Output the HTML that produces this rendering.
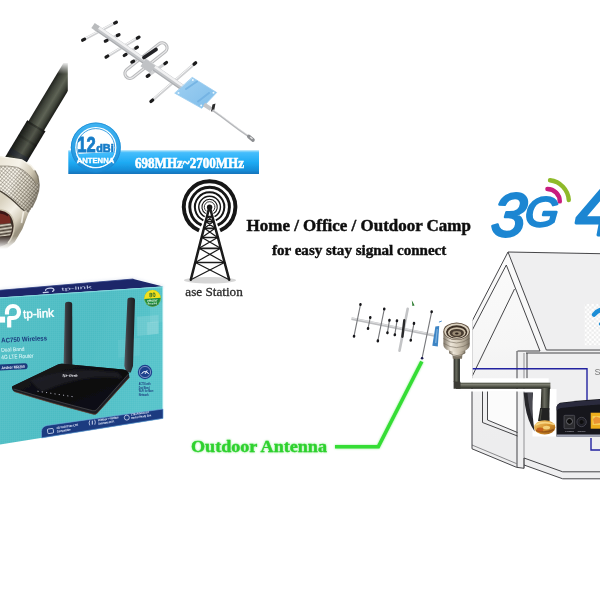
<!DOCTYPE html>
<html lang="en">
<head>
<meta charset="utf-8">
<title>Outdoor Antenna Kit</title>
<style>
html,body{margin:0;padding:0;background:#fff;width:600px;height:600px;overflow:hidden}
svg{display:block}
text{font-family:"Liberation Serif",serif}
.sans{font-family:"Liberation Sans",sans-serif}
</style>
</head>
<body>
<svg width="600" height="600" viewBox="0 0 600 600">
<defs>
  <filter id="b03" x="-5%" y="-5%" width="110%" height="110%"><feGaussianBlur stdDeviation="0.35"/></filter>
  <filter id="b06" x="-10%" y="-10%" width="120%" height="120%"><feGaussianBlur stdDeviation="0.6"/></filter>
  <filter id="b1" x="-10%" y="-10%" width="120%" height="120%"><feGaussianBlur stdDeviation="1"/></filter>
  <filter id="b2" x="-20%" y="-20%" width="140%" height="140%"><feGaussianBlur stdDeviation="2"/></filter>
    <linearGradient id="gCable" x1="0" x2="1" y1="0" y2="0">
    <stop offset="0" stop-color="#20221d"/><stop offset="0.22" stop-color="#3d4138"/>
    <stop offset="0.55" stop-color="#5e6355"/><stop offset="0.8" stop-color="#3e4238"/><stop offset="1" stop-color="#1a1c17"/>
  </linearGradient>
  <linearGradient id="gShrink" x1="0" x2="1" y1="0" y2="0">
    <stop offset="0" stop-color="#181a16"/><stop offset="0.28" stop-color="#33362f"/>
    <stop offset="0.58" stop-color="#53574b"/><stop offset="0.82" stop-color="#30332c"/><stop offset="1" stop-color="#131411"/>
  </linearGradient>
  <linearGradient id="gFadeTop" x1="0" x2="0" y1="0" y2="1">
    <stop offset="0" stop-color="#fff" stop-opacity="1"/><stop offset="1" stop-color="#fff" stop-opacity="0"/>
  </linearGradient>
  <linearGradient id="gFadeBot" x1="0" x2="0" y1="0" y2="1">
    <stop offset="0" stop-color="#fff" stop-opacity="0"/><stop offset="1" stop-color="#fff" stop-opacity="1"/>
  </linearGradient>
  <pattern id="pKnurl" width="2.7" height="2.7" patternUnits="userSpaceOnUse" patternTransform="rotate(40)">
    <rect width="2.7" height="2.7" fill="#f4efe2"/>
    <path d="M0 0H2.7M0 0V2.7" stroke="#5e5648" stroke-width="0.9"/>
  </pattern>
  <linearGradient id="gNutShade" gradientUnits="userSpaceOnUse" x1="0" y1="170" x2="41" y2="186">
    <stop offset="0" stop-color="#fff" stop-opacity="0.15"/><stop offset="0.35" stop-color="#fff" stop-opacity="0.28"/>
    <stop offset="0.62" stop-color="#8a8270" stop-opacity="0.15"/><stop offset="0.85" stop-color="#5a5242" stop-opacity="0.32"/><stop offset="1" stop-color="#3a3428" stop-opacity="0.5"/>
  </linearGradient>
  <linearGradient id="gThread" gradientUnits="userSpaceOnUse" x1="0" y1="0" x2="-2.4" y2="4.6" spreadMethod="repeat">
    <stop offset="0" stop-color="#f3f2ee"/><stop offset="0.5" stop-color="#6a6862"/><stop offset="1" stop-color="#f3f2ee"/>
  </linearGradient>
  <linearGradient id="gBandS" gradientUnits="userSpaceOnUse" x1="2" y1="200" x2="26" y2="222">
    <stop offset="0" stop-color="#d9d2c0"/><stop offset="0.45" stop-color="#f4f0e6"/><stop offset="0.75" stop-color="#d6cfbd"/><stop offset="1" stop-color="#9a927f"/>
  </linearGradient>
  <linearGradient id="gThread2" gradientUnits="userSpaceOnUse" x1="0" y1="0" x2="0.5" y2="3.4" spreadMethod="repeat">
    <stop offset="0" stop-color="#d9d2c2"/><stop offset="0.5" stop-color="#4a4036"/><stop offset="1" stop-color="#d9d2c2"/>
  </linearGradient>
  <linearGradient id="gSilver" x1="0" x2="1" y1="0" y2="0.4">
    <stop offset="0" stop-color="#f2f2f0"/><stop offset="0.5" stop-color="#cfcfcc"/><stop offset="1" stop-color="#6f6f6c"/>
  </linearGradient>
  <linearGradient id="gBanner" x1="0" x2="0" y1="0" y2="1">
    <stop offset="0" stop-color="#6fcdfb"/><stop offset="0.1" stop-color="#45bdfc"/>
    <stop offset="0.5" stop-color="#1dabf4"/><stop offset="0.85" stop-color="#168cd7"/><stop offset="1" stop-color="#1273ba"/>
  </linearGradient>
  <linearGradient id="gBadge" x1="0" x2="0" y1="0" y2="1">
    <stop offset="0" stop-color="#3fb4f2"/><stop offset="1" stop-color="#1a8cd8"/>
  </linearGradient>
  <linearGradient id="gPlate" x1="0" x2="1" y1="0" y2="1">
    <stop offset="0" stop-color="#9fd0f2"/><stop offset="1" stop-color="#7fbdea"/>
  </linearGradient>
  <linearGradient id="gBanner2" gradientUnits="userSpaceOnUse" x1="0" x2="0" y1="150.6" y2="174">
    <stop offset="0" stop-color="#6fcdfb"/><stop offset="0.1" stop-color="#45bdfc"/>
    <stop offset="0.5" stop-color="#1dabf4"/><stop offset="0.85" stop-color="#168cd7"/><stop offset="1" stop-color="#1273ba"/>
  </linearGradient>
  <linearGradient id="gHCable" x1="0" x2="0" y1="0" y2="1">
    <stop offset="0" stop-color="#4a4c42"/><stop offset="0.3" stop-color="#7d7f72"/><stop offset="0.6" stop-color="#55574b"/><stop offset="1" stop-color="#23241f"/>
  </linearGradient>
  <linearGradient id="gVCable" x1="0" x2="1" y1="0" y2="0">
    <stop offset="0" stop-color="#23241f"/><stop offset="0.4" stop-color="#6b6d61"/><stop offset="0.7" stop-color="#4a4c42"/><stop offset="1" stop-color="#1c1d19"/>
  </linearGradient>
  <linearGradient id="gNconn" x1="0" x2="1" y1="0" y2="0">
    <stop offset="0" stop-color="#7d7364"/><stop offset="0.28" stop-color="#ece5d8"/><stop offset="0.6" stop-color="#cfc5b3"/><stop offset="0.85" stop-color="#a59b8a"/><stop offset="1" stop-color="#6f6657"/>
  </linearGradient>
  <linearGradient id="gGold" x1="0" x2="1" y1="0" y2="1">
    <stop offset="0" stop-color="#f3cf7a"/><stop offset="0.5" stop-color="#d9962f"/><stop offset="1" stop-color="#9a5a14"/>
  </linearGradient>
  <pattern id="pCheck" width="4.6" height="4.6" patternUnits="userSpaceOnUse" x="584.6" y="304">
    <rect width="4.6" height="4.6" fill="#ffffff"/><rect width="2.3" height="2.3" fill="#ececec"/><rect x="2.3" y="2.3" width="2.3" height="2.3" fill="#ececec"/>
  </pattern>
  <linearGradient id="gTeal" x1="0" x2="1" y1="0" y2="0.3">
    <stop offset="0" stop-color="#4fbec5"/><stop offset="0.6" stop-color="#4cbcc3"/><stop offset="1" stop-color="#55c3ca"/>
  </linearGradient>
  <linearGradient id="gAnt" x1="0" x2="1" y1="0" y2="0">
    <stop offset="0" stop-color="#565a60"/><stop offset="0.35" stop-color="#33363b"/><stop offset="1" stop-color="#1d1e22"/>
  </linearGradient>
  <linearGradient id="gRouterTop" x1="0" x2="1" y1="0" y2="1">
    <stop offset="0" stop-color="#1d1d22"/><stop offset="0.5" stop-color="#0b0b0e"/><stop offset="1" stop-color="#141418"/>
  </linearGradient>
  <pattern id="pGrid" width="2" height="2" patternUnits="userSpaceOnUse">
    <path d="M0 0H2M0 0V2" stroke="#ffffff" stroke-width="0.25" opacity="0.25"/>
  </pattern>
  <linearGradient id="gTopBand" gradientUnits="userSpaceOnUse" x1="0" y1="160" x2="38" y2="178">
    <stop offset="0" stop-color="#ebe6d8"/><stop offset="0.45" stop-color="#f6f3ea"/><stop offset="0.8" stop-color="#cfc7b3"/><stop offset="1" stop-color="#978f7c"/>
  </linearGradient>
  <filter id="glow" x="-10%" y="-40%" width="120%" height="180%">
    <feGaussianBlur in="SourceGraphic" stdDeviation="1.3" result="g"/>
    <feComponentTransfer in="g" result="g2"><feFuncA type="linear" slope="0.55"/></feComponentTransfer>
    <feGaussianBlur in="SourceGraphic" stdDeviation="0.35" result="s"/>
    <feMerge><feMergeNode in="g2"/><feMergeNode in="s"/></feMerge>
  </filter>
  <linearGradient id="gGable" gradientUnits="userSpaceOnUse" x1="0" y1="252" x2="0" y2="440">
    <stop offset="0" stop-color="#fbfbfb"/><stop offset="0.5" stop-color="#f6f6f6"/><stop offset="0.8" stop-color="#efeff0"/><stop offset="1" stop-color="#ededee"/>
  </linearGradient>

</defs>
<rect width="600" height="600" fill="#fff"/>

<g id="ncable">
  <clipPath id="cpCable"><rect x="0" y="63" width="67.8" height="192"/></clipPath>
  <g clip-path="url(#cpCable)" filter="url(#b03)">
    <g transform="translate(51.8,100) rotate(31)">
      <rect x="-9.1" y="-60" width="18.2" height="92" fill="url(#gCable)"/>
      <rect x="-10.6" y="30" width="21.2" height="56" fill="url(#gShrink)"/>
      <rect x="-10.6" y="30" width="21.2" height="2" fill="#0a0a0a" opacity="0.3"/>
      <rect x="-10.6" y="46" width="21.2" height="2.4" fill="#000" opacity="0.15"/>
      <rect x="-10.6" y="62" width="21.2" height="6" fill="#1a1f3a" opacity="0.35"/>
    </g>
    <!-- knurled nut -->
    <path d="M0 156.5 L22 160 L31 165.7 L34.4 170 L37.8 176.5 L39 185 L38.3 191 L35.8 199 L31.7 207.5 L28.3 213.4 L20.8 207.6 Q11 197.3 0 190.6Z" fill="url(#pKnurl)"/>
    <path d="M0 156.5 L22 160 L31 165.7 L34.4 170 L37.8 176.5 L39 185 L38.3 191 L35.8 199 L31.7 207.5 L28.3 213.4 L20.8 207.6 Q11 197.3 0 190.6Z" fill="url(#gNutShade)"/>
    <path d="M0 156.5 L22 160 L31 165.7 L34.4 170 L37.8 176.5 L38.6 182 L36 184.7 Q33 178 28.7 174.7 Q23 169 17.3 167.3 Q8 165.5 0 166Z" fill="url(#gTopBand)"/>
    <path d="M0 166 Q8 165.5 17.3 167.3 Q23 169 28.7 174.7 Q33 178 36 184.7" fill="none" stroke="#6a6254" stroke-width="0.8" opacity="0.7"/>
    <path d="M0 156.6 L22 160 L31 165.7 L34.6 170.3" fill="none" stroke="#f6f3ea" stroke-width="1.4" stroke-linejoin="round"/>
    <path d="M35 170.5 L38 176.5 L39.2 185 L38.5 191 L36 199 L31.9 207.6" fill="none" stroke="#6b6455" stroke-width="1.2" opacity="0.8"/>
    <!-- smooth front ring -->
    <path d="M0 190.6 Q11 197.3 20.8 207.6 L28.3 213.4 L25.8 220 L22.4 229 L14.7 242 L6.7 248.7 L0 250Z" fill="url(#gBandS)"/>
    <path d="M0 190.9 Q11 197.6 20.8 207.9 L24.5 210.8" fill="none" stroke="#4a4338" stroke-width="1.3"/>
    <path d="M23.5 211.5 L21.5 223" stroke="#fbf8f0" stroke-width="1.6" opacity="0.8"/>
    <!-- opening -->
    <path d="M0 209.6 Q6 210.5 9.8 214 Q13.8 218.5 14.4 226 Q14 236 8 243 Q4 246 0 246.7Z" fill="#3b2d25"/>
    <path d="M0 210.4 Q5.5 211.3 8.6 214.4 Q11 218 10.4 223.4 L0 224.2Z" fill="#742c24"/>
    <path d="M0 210.4 Q5.5 211.3 8.6 214.4 L7.8 216.4 Q4.5 214 0 213.6Z" fill="#3a1713"/>
    <path d="M0 224 L10.5 223.2 Q12.4 225 12 229 Q11.4 233 10 235.4 L0 236.6Z" fill="url(#gThread2)"/>
    <path d="M0 209.6 Q6 210.5 9.8 214 Q13.8 218.5 14.4 226 Q14 236 8 243" fill="none" stroke="#cfc7b3" stroke-width="1.5"/>
  </g>
  <rect x="20" y="62" width="50" height="12" fill="url(#gFadeTop)"/>
  <rect x="0" y="236" width="40" height="13" fill="url(#gFadeBot)"/>
  <rect x="0" y="249" width="40" height="6" fill="#fff"/>
</g>


<g id="yagi" filter="url(#b03)" stroke-linecap="round">
  <!-- elements (behind boom) -->
  <g stroke="#cfd0d2" stroke-width="3">
    <line x1="83.5" y1="39.7" x2="115.8" y2="22.5"/>
    <line x1="106" y1="40.8" x2="118.3" y2="35"/>
    <line x1="106.7" y1="56.7" x2="138.3" y2="37.5"/>
    <line x1="125" y1="55" x2="136.7" y2="47.5"/>
    <line x1="132.5" y1="61.7" x2="145" y2="55.5"/>
    <line x1="148" y1="75.8" x2="165.8" y2="63"/>
    <line x1="151.7" y1="100.8" x2="195" y2="63.3"/>
  </g>
  <g stroke="#fff" stroke-width="1" opacity="0.85">
    <line x1="85" y1="38.3" x2="114.5" y2="22.6"/>
    <line x1="108" y1="55.3" x2="137" y2="37.7"/>
    <line x1="153" y1="99" x2="194" y2="63.5"/>
  </g>
  <!-- folded dipole loop -->
  <g transform="translate(146,60.6) rotate(-38.5)">
    <rect x="-25.5" y="-5" width="51" height="10" rx="5" fill="none" stroke="#b9babc" stroke-width="3.3"/>
    <rect x="-25.5" y="-5" width="51" height="10" rx="5" fill="none" stroke="#e9e9ea" stroke-width="1.1"/>
  </g>
  <!-- boom -->
  <line x1="96" y1="27.5" x2="206" y2="104" stroke="#c4c6c9" stroke-width="6" stroke-linecap="butt"/>
  <line x1="96.8" y1="26.3" x2="206.8" y2="102.8" stroke="#f1f1f2" stroke-width="2.6" stroke-linecap="butt"/>
  <line x1="95.1" y1="29.6" x2="205.1" y2="106.1" stroke="#a9abae" stroke-width="1.1" stroke-linecap="butt"/>
  <rect x="-3" y="-3" width="6" height="6" transform="translate(95.5,27.2) rotate(35)" fill="#b9bbbd"/>
  <!-- dipole black centre -->
  <line x1="144" y1="57.5" x2="156" y2="49.5" stroke="#232325" stroke-width="3.8"/>
  <rect x="-6" y="-4.5" width="12" height="9" transform="translate(148,66) rotate(35)" fill="#c0c2c5"/>
  <!-- black tips -->
  <g stroke="#1d1d1f" stroke-width="3.2" stroke-linecap="round">
    <line x1="82.6" y1="40.2" x2="84.6" y2="39.1"/><line x1="114.6" y1="23.1" x2="116.4" y2="22.2"/>
    <line x1="105.3" y1="41.2" x2="107" y2="40.4"/><line x1="117.3" y1="35.5" x2="119" y2="34.7"/>
    <line x1="106" y1="57.1" x2="107.8" y2="56"/><line x1="137.3" y1="38.1" x2="139" y2="37.1"/>
    <line x1="124.2" y1="55.5" x2="126" y2="54.4"/><line x1="135.8" y1="48.1" x2="137.4" y2="47.1"/>
    <line x1="131.8" y1="62.1" x2="133.6" y2="61.2"/>
    <line x1="147.2" y1="76.4" x2="149" y2="75.1"/><line x1="164.8" y1="63.7" x2="166.5" y2="62.5"/>
    <line x1="150.9" y1="101.5" x2="152.7" y2="100"/><line x1="194" y1="64.2" x2="195.7" y2="62.7"/>
  </g>
  <!-- blue plate -->
  <path d="M192.5 77.5 L216.7 92.5 L201.7 108.3 L175 93.3Z" fill="url(#gPlate)" stroke="#9ccdf0" stroke-width="0.8"/>
  <path d="M186 89 L197 81.5" stroke="#6fb0e2" stroke-width="2" opacity="0.8"/>
  <path d="M198 101.5 L209 93" stroke="#6fb0e2" stroke-width="2" opacity="0.8"/>
  <g fill="#e8f6ff"><circle cx="192.8" cy="80" r="1"/><circle cx="213.5" cy="92.7" r="1"/><circle cx="201.2" cy="105.5" r="1"/><circle cx="178.5" cy="93" r="1"/></g>
  <!-- tail -->
  <line x1="204" y1="104.5" x2="211" y2="109" stroke="#c4c6c9" stroke-width="4" stroke-linecap="butt"/>
  <path d="M212.5 104.5 L215.5 103.5 L214 111 L211 111.5Z" fill="#2a2a2c"/>
  <path d="M213 110.5 Q221 116 230 123 T249.5 137" fill="none" stroke="#b5b7ba" stroke-width="1.7"/>
  <path d="M213.4 109.9 Q221.4 115.4 230.4 122.4 T249.9 136.4" fill="none" stroke="#ededee" stroke-width="0.6"/>
  <line x1="248.8" y1="136.5" x2="253" y2="140" stroke="#8c8e91" stroke-width="3.6"/>
  <line x1="250.5" y1="137.3" x2="252.2" y2="138.7" stroke="#e3e3e3" stroke-width="1.2"/>
</g>


<g id="banner">
  <g filter="url(#b03)">
    <rect x="68.3" y="150.6" width="190.7" height="23.4" fill="url(#gBanner)"/>
    <rect x="68.3" y="150.6" width="190.7" height="1" fill="#8fd8fb" opacity="0.9"/>
    <circle cx="95.8" cy="147.5" r="25" fill="url(#gBadge)"/>
    <circle cx="95.8" cy="147.5" r="24.5" fill="none" stroke="#1d86cf" stroke-width="1" opacity="0.7"/>
    <circle cx="95.8" cy="147.5" r="20.6" fill="#fff"/>
    <circle cx="95.8" cy="147.5" r="18.9" fill="none" stroke="#2a97df" stroke-width="0.9"/>
    <clipPath id="cpBadge"><circle cx="95.8" cy="147.5" r="19.4"/></clipPath>
    <g clip-path="url(#cpBadge)">
      <path d="M70 154.6 Q96 152.4 122 151.4 V175 H70Z" fill="url(#gBanner2)"/>
    </g>
    <path d="M76.6 154.4 A20.4 20.4 0 0 0 115.2 153.4" fill="none" stroke="#f2faff" stroke-width="1.1" opacity="0.95"/>
  </g>
  <g filter="url(#b03)">
  <text class="sans" x="77.3" y="151.6" font-size="22.6" font-weight="700" fill="#187dc8" stroke="#187dc8" stroke-width="0.9" textLength="18.4" lengthAdjust="spacingAndGlyphs">12</text>
  <text class="sans" x="96.2" y="151.7" font-size="11.6" font-weight="700" fill="#187dc8" stroke="#187dc8" stroke-width="0.7" textLength="17.6" lengthAdjust="spacingAndGlyphs">dBi</text>
  <text class="sans" x="76.8" y="163.4" font-size="6.9" font-weight="700" fill="#fff" stroke="#fff" stroke-width="0.3" textLength="37.4" lengthAdjust="spacingAndGlyphs">ANTENNA</text>
  <text x="135" y="167.6" font-size="14" font-weight="700" fill="#fff" stroke="#fff" stroke-width="0.55" textLength="109" lengthAdjust="spacingAndGlyphs">698MHz~2700MHz</text>
  </g>
</g>


<g id="tower" filter="url(#b03)">
<ellipse cx="210" cy="280.3" rx="26" ry="3.2" fill="#d6d6d6" filter="url(#b06)"/>
<path d="M199.11 230.57 A25.8 25.8 0 1 1 220.09 230.57" fill="none" stroke="#141414" stroke-width="3.9"/>
<path d="M201.55 225.09 A19.8 19.8 0 1 1 217.65 225.09" fill="none" stroke="#141414" stroke-width="2.9"/>
<path d="M203.39 220.32 A14.7 14.7 0 1 1 215.81 220.32" fill="none" stroke="#141414" stroke-width="2.0"/>
<path d="M204.70 216.62 A10.8 10.8 0 1 1 214.50 216.62" fill="none" stroke="#141414" stroke-width="1.4"/>
<path d="M205.75 213.67 A7.7 7.7 0 1 1 213.45 213.67" fill="none" stroke="#141414" stroke-width="1.05"/>
<path d="M206.64 211.39 A5.3 5.3 0 1 1 212.56 211.39" fill="none" stroke="#141414" stroke-width="0.85"/>
<g stroke="#1a1a1a" fill="none" stroke-linecap="round" stroke-linejoin="round">
<path d="M190.8 279.7 L209.0 208.5 M229.2 279.7 L210.2 208.5" stroke-width="2.5"/>
<path d="M207.49 216.50 L211.80 216.50" stroke-width="1.7"/>
<path d="M206.11 221.70 L213.23 221.70" stroke-width="1.7"/>
<path d="M207.49 216.50 L213.23 221.70 M211.80 216.50 L206.11 221.70" stroke-width="1.25"/>
<path d="M204.37 228.30 L215.05 228.30" stroke-width="1.7"/>
<path d="M206.11 221.70 L215.05 228.30 M213.23 221.70 L204.37 228.30" stroke-width="1.25"/>
<path d="M201.94 237.50 L217.58 237.50" stroke-width="1.7"/>
<path d="M204.37 228.30 L217.58 237.50 M215.05 228.30 L201.94 237.50" stroke-width="1.25"/>
<path d="M199.09 248.30 L220.56 248.30" stroke-width="1.7"/>
<path d="M201.94 237.50 L220.56 248.30 M217.58 237.50 L199.09 248.30" stroke-width="1.25"/>
<path d="M195.34 262.50 L224.47 262.50" stroke-width="1.7"/>
<path d="M199.09 248.30 L224.47 262.50 M220.56 248.30 L195.34 262.50" stroke-width="1.25"/>
<path d="M195.34 262.50 L229.20 279.70 M224.47 262.50 L190.80 279.70" stroke-width="1.25"/>
</g>
<circle cx="209.6" cy="207.2" r="2.7" fill="#161616"/>
</g>


<g id="texts" filter="url(#b03)">
  <text x="185.3" y="296.4" font-size="13" fill="#2b2b2b" stroke="#2b2b2b" stroke-width="0.3" textLength="57.5" lengthAdjust="spacingAndGlyphs">ase Station</text>
  <text x="246.6" y="231" font-size="15.8" font-weight="700" fill="#111" stroke="#111" stroke-width="0.45" textLength="224.3" lengthAdjust="spacingAndGlyphs">Home / Office / Outdoor Camp</text>
  <text x="272" y="255" font-size="13.8" font-weight="700" fill="#111" stroke="#111" stroke-width="0.4" textLength="174.3" lengthAdjust="spacingAndGlyphs">for easy stay signal connect</text>
</g>
<g filter="url(#glow)">
  <text x="191" y="452" font-size="16" font-weight="700" fill="#2ed12e" stroke="#2ed12e" stroke-width="0.3" textLength="136" lengthAdjust="spacingAndGlyphs">Outdoor Antenna</text>
</g>


<g id="logo3g" filter="url(#b03)">
  <text class="sans" transform="translate(490,236) skewX(-6)" font-size="61" font-style="italic" font-weight="400" fill="#1b86d2" stroke="#1b86d2" stroke-width="2.6" stroke-linejoin="round" textLength="34" lengthAdjust="spacingAndGlyphs">3</text>
  <text class="sans" transform="translate(524.5,225.5) skewX(-4)" font-size="41" font-style="italic" font-weight="400" fill="#1b86d2" stroke="#1b86d2" stroke-width="2.5" stroke-linejoin="round" textLength="33" lengthAdjust="spacingAndGlyphs">G</text>
  <text class="sans" transform="translate(575.5,235.3) skewX(0)" font-size="76" font-style="italic" font-weight="400" fill="#1b86d2" stroke="#1b86d2" stroke-width="2.8" stroke-linejoin="round">4</text>
  <path d="M547.4 189 A12.4 12.4 0 0 1 559.8 201.4" fill="none" stroke="#c81b7e" stroke-width="4.4" stroke-linecap="round"/>
  <path d="M550 180.2 A21.4 21.4 0 0 1 568.8 200" fill="none" stroke="#8fba2c" stroke-width="4.4" stroke-linecap="round"/>
</g>


<g id="house">
  <g filter="url(#b03)">
  <!-- house fill -->
  <path d="M508 252 L600 253.7 V478.8 H562.7 L524 465 V468.3 L516.5 467.3 L472 448.8 V321.3Z" fill="#efeff0"/>
  <path d="M508 252 L546.3 350 L517 351 V467.3 L472 448.8 V321.3Z" fill="url(#gGable)"/>
  <path d="M487.5 391.5 H517 V432.3 L487.5 420Z" fill="#fbfbfb"/>
  <!-- checker area + blue arrow -->
  <rect x="584.6" y="304" width="15.4" height="41.4" fill="url(#pCheck)"/>
  <path d="M594 314.6 Q597 311 601 309.6" fill="none" stroke="#1a8dd6" stroke-width="4.4" stroke-linecap="round"/>
  <circle cx="600.6" cy="324" r="1.8" fill="#1a8dd6"/>
  <!-- outlines -->
  <g fill="none" stroke="#3c3c3f" stroke-width="0.95" stroke-linejoin="round">
    <path d="M600 253.7 L508 252 L472 321.3 V448.8 L516.5 467.3 L524 468.3 V458 L562.7 471.8 H600"/>
    <path d="M524 465 L562.7 478.8 H600"/>
    <path d="M472 445 L516.5 463.6" opacity="0.6"/>
    <path d="M506.3 265 L472.3 330"/>
    <path d="M508 252 L546.3 350 H600"/>
    <path d="M506.3 265 L540 351"/>
    <path d="M514.5 289 L472.3 376"/>
    <path d="M517.5 351 H540"/>
    <path d="M526 353 H600"/>
    <path d="M517 351 V467.3"/>
    <path d="M524 353 V468.3" opacity="0.55"/>
    <path d="M527 353 V378.4"/>
    <path d="M482.5 391 V422.5 L517.5 436"/>
    <path d="M487.5 391 V420 L517.5 432.5"/>
  </g>
  <!-- blue wiring -->
  <g fill="none" stroke="#2322a0" stroke-width="1.4">
    <path d="M472 368.8 H587 V402"/>
    <path d="M591 438 V450 H600"/>
  </g>
  <text class="sans" x="594.5" y="374.5" font-size="9" fill="#7a7a7a">S</text>
  </g>

  <!-- white paste backgrounds -->
  <rect x="441" y="318" width="31.6" height="63.5" fill="#fff"/>
  <rect x="471" y="389" width="79" height="2.5" fill="#fff"/>
  <rect x="459.7" y="378.3" width="89" height="4.6" fill="#fff"/>
  <rect x="532.5" y="389" width="24" height="47.5" fill="#fff"/>

  <g filter="url(#b03)">
  <!-- router rear -->
  <path d="M556.5 436.6 V407 Q557 404 560 402.7 Q580 400.2 600 399 V436.6Z" fill="#15151c"/>
  <path d="M556.7 406.5 Q557.4 404.2 560 403.3 Q580 400.8 600 399.7 V404.5 Q580 405.5 561 408 Q558 408.6 556.7 410.5Z" fill="#2b2c3c"/>
  <path d="M556.5 434.6 H600 V436.8 H556.5Z" fill="#9fa3b4"/>
  <rect x="564" y="415.3" width="10.7" height="13.4" rx="1" fill="#2a2a2f" stroke="#5a5a60" stroke-width="0.7"/>
  <circle cx="569.5" cy="421.4" r="3" fill="#0c0c0e" stroke="#707076" stroke-width="0.9"/>
  <circle cx="581.6" cy="422" r="4.7" fill="#1f1f25" stroke="#4c4c55" stroke-width="0.8"/>
  <circle cx="581.6" cy="422" r="2.5" fill="#0b0b0d" stroke="#3a3a42" stroke-width="0.5"/>
  <rect x="590.7" y="412.7" width="10" height="16" fill="#efae1f"/>
  <path d="M592.5 416 H600 V425 H592.5Z" fill="#f7cd55"/>
  <path d="M593 419 L596 416.5 L600 418 V423 L594 424Z" fill="#e8862a" opacity="0.8"/>
  <text class="sans" x="565.2" y="431.9" font-size="2.3" font-weight="700" fill="#a8a8b0" textLength="8.6" lengthAdjust="spacingAndGlyphs">POWER</text>
  <text class="sans" x="577.4" y="431.9" font-size="2.3" font-weight="700" fill="#a8a8b0" textLength="8.6" lengthAdjust="spacingAndGlyphs">ON/OFF</text>
  <!-- dark curve left of router -->
  <path d="M523.6 392.4 H533 Q531.6 410 533.6 424 L534.6 431.5 Q527.5 421 525 405Z" fill="#26262b"/>
  <path d="M527.5 393 H532.6 Q531.3 408 532.6 419 Q528.6 408 527.5 393Z" fill="#5a5a62" opacity="0.7"/>
  <!-- horizontal cable -->
  <rect x="456" y="382.7" width="94.4" height="6.1" fill="url(#gHCable)"/>
  <!-- vertical cable down to SMA -->
  <path d="M541.4 388 H549.9 L549.2 410 H540.6Z" fill="url(#gVCable)"/>
  <path d="M540.2 408 H549.4 L549.6 421 H538 Z" fill="#232421"/>
  <path d="M541.5 409 L540.2 420" stroke="#55574f" stroke-width="1" opacity="0.8"/>
  <!-- SMA gold -->
  <ellipse cx="544.7" cy="427.4" rx="10.6" ry="7.2" fill="url(#gGold)"/>
  <path d="M535.5 425 Q544 420.5 554.5 424.5" fill="none" stroke="#f8d98a" stroke-width="1.6" opacity="0.9"/>
  <path d="M536 430.5 Q545 434 554 429.5" fill="none" stroke="#8b4a12" stroke-width="1.4" opacity="0.8"/>
  <ellipse cx="546.5" cy="427.6" rx="3.6" ry="1.9" fill="#f4d07a"/>
  <ellipse cx="540" cy="429.6" rx="3.4" ry="2" fill="#c25a18" opacity="0.9"/>
  <!-- N connector (right diagram) -->
  <path d="M453.6 356 H459.9 L459.9 382 H453.6 Z" fill="url(#gVCable)"/>
  <path d="M453.6 381.5 L453.6 388.8 L460.5 388.8 L460.5 381.8Z" fill="#3a3b34"/>
  <path d="M452.4 354.5 H462.4 L462 358.8 H452.8Z" fill="#7d7566"/>
  <path d="M448.8 348 H465.5 L465.2 353.2 Q457 359.5 449.2 353.2Z" fill="url(#gNconn)"/>
  <path d="M449 352.6 Q457 358.6 465.3 352.6" fill="none" stroke="#5d5446" stroke-width="0.8" opacity="0.7"/>
  <path d="M443.4 331.3 V345 Q443.6 348.4 448 350.2 Q456.6 353.6 465.4 350.2 Q469.6 348.4 469.7 345 V331.3Z" fill="url(#gNconn)"/>
  <path d="M443.4 338.5 Q456.5 347.5 469.7 338.5 M443.5 343.2 Q456.5 352 469.6 343.2" fill="none" stroke="#6a6052" stroke-width="0.9" opacity="0.6"/>
  <ellipse cx="456.6" cy="331.3" rx="13.2" ry="8.8" fill="#5e4f3f"/>
  <ellipse cx="456.6" cy="331.5" rx="12.3" ry="8" fill="#dbd2c0"/>
  <ellipse cx="456.7" cy="331.9" rx="10.7" ry="6.7" fill="#3b2e24"/>
  <ellipse cx="456.8" cy="332.6" rx="8.9" ry="5.3" fill="#cbbfa9"/>
  <ellipse cx="456.8" cy="333" rx="7.2" ry="4.1" fill="#4a3d30"/>
  <ellipse cx="456.8" cy="333.4" rx="4.4" ry="2.4" fill="#9a8c76"/>
  <ellipse cx="456.8" cy="333.4" rx="1.8" ry="1" fill="#2e241c"/>
  </g>
</g>


<g id="smallyagi">
  <g filter="url(#b03)" stroke-linecap="round">
    <!-- boom -->
    <line x1="351.5" y1="318.6" x2="435.5" y2="335.6" stroke="#bdbec0" stroke-width="3" stroke-linecap="butt"/>
    <line x1="351.5" y1="318" x2="435.5" y2="335" stroke="#e4e4e5" stroke-width="0.9" stroke-linecap="butt"/>
    <!-- thin elements -->
    <g stroke="#77787b" stroke-width="1.15">
      <line x1="360.5" y1="304.5" x2="354" y2="336.2"/>
      <line x1="370.3" y1="317.5" x2="368" y2="328.5"/>
      <line x1="384.3" y1="309" x2="377.8" y2="340.9"/>
      <line x1="389.5" y1="320.3" x2="387.4" y2="332.7"/>
      <line x1="397" y1="320.8" x2="394.8" y2="334.8"/>
      <line x1="414" y1="323.4" x2="410.7" y2="340.2"/>
      <line x1="431.7" y1="311.7" x2="422.2" y2="357.5"/>
    </g>
    <!-- dipole -->
    <line x1="407.7" y1="308.7" x2="399.5" y2="350.7" stroke="#c3c4c6" stroke-width="2.6"/>
    <line x1="404.3" y1="320.3" x2="402.4" y2="336.7" stroke="#2a2a2c" stroke-width="2.4"/>
    <!-- tips -->
    <g stroke="#18181a" stroke-width="2.5">
      <line x1="360.5" y1="304.2" x2="360.4" y2="304.8"/><line x1="354.1" y1="335.9" x2="354" y2="336.5"/>
      <line x1="370.3" y1="317.2" x2="370.2" y2="317.8"/><line x1="368.1" y1="328.2" x2="368" y2="328.8"/>
      <line x1="384.3" y1="308.7" x2="384.2" y2="309.3"/><line x1="377.9" y1="340.6" x2="377.8" y2="341.2"/>
      <line x1="389.5" y1="320" x2="389.4" y2="320.6"/><line x1="387.5" y1="332.4" x2="387.4" y2="333"/>
      <line x1="397" y1="320.5" x2="396.9" y2="321.1"/><line x1="394.9" y1="334.5" x2="394.8" y2="335.1"/>
      <line x1="414" y1="323.1" x2="413.9" y2="323.7"/><line x1="410.8" y1="339.9" x2="410.7" y2="340.5"/>
      <line x1="431.7" y1="311.4" x2="431.6" y2="312"/>
    </g>
    <circle cx="422.1" cy="358.3" r="1.3" fill="#1a1a50"/>
    <!-- blue bracket -->
    <path d="M435.4 326.6 L439.2 326 L437.8 346.4 L432.3 345.8Z" fill="#3d84c4"/>
    <path d="M436.6 329 L437.8 329 L436.4 343 L435 343Z" fill="#8bbce4" opacity="0.8"/>
    <path d="M439.3 322 L441.4 321.2" stroke="#4a8fd0" stroke-width="1"/>
    <!-- small green mark -->
    <path d="M411.8 300.2 L414.6 305.6 L412.4 306Z" fill="#2e7d32"/>
  </g>
  <!-- green lead -->
  <path d="M421.8 361.5 L378.3 446.8 H335" fill="none" stroke="#35dd35" stroke-width="3.6" stroke-linejoin="miter" filter="url(#glow)"/>
</g>


<g id="tpbox">
  <g filter="url(#b03)">
  <!-- faint halo above -->
  <path d="M0 288 L133 277 L164 285 V288 L0 299Z" fill="#e6eaf3" filter="url(#b1)" opacity="0.6"/>
  <!-- top face navy -->
  <path d="M0 290.3 L133.3 279 L163 286.5 L0 297.6Z" fill="#1b2769"/>
  <path d="M0 290.3 L133.3 279" stroke="#2a3a80" stroke-width="0.8" fill="none"/>
  <!-- front face teal -->
  <path d="M0 297.5 L163 286.5 L163 418.4 L0 444.5Z" fill="url(#gTeal)"/>
  <path d="M0 297.5 L163 286.5 L163 418.4 L0 444.5Z" fill="url(#pGrid)"/>
  <path d="M0 297.9 L163 286.9" stroke="#8fe0e6" stroke-width="0.9" fill="none" opacity="0.8"/>
  <path d="M162.2 286.6 L163.3 286.5 L163.3 418.4 L162.2 418.6Z" fill="#bfeef2" opacity="0.8"/>
  <!-- lighter geometric squares -->
  <g fill="#ffffff">
    <path d="M137 316.8 L158.5 315 L158.6 333.8 L137.2 336Z" opacity="0.13"/>
    <path d="M147 322.3 L158.6 321.3 L158.6 333.8 L147.2 335Z" opacity="0.13"/>
    <path d="M150 303.5 L163 302.4 L163 322 L150.2 323.2Z" opacity="0.07"/>
    <path d="M118 340 L140 338 L140.3 355.5 L118.3 357.8Z" opacity="0.06"/>
  </g>
  <!-- top-face logo -->
  <g fill="none" stroke="#c9d2ec" stroke-linecap="round" transform="rotate(-4.2 60 289)">
    <path d="M45.5 289.2 A4.2 2 0 1 1 52.5 290.8" stroke-width="1.3"/>
    <path d="M43 291.3 H48" stroke-width="1.2"/>
  </g>
  <text class="sans" transform="translate(61.5,290.8) rotate(-4.6) scale(1,0.62)" font-size="7.2" fill="#c9d2ec" textLength="30.5" lengthAdjust="spacingAndGlyphs">tp-link</text>
  <!-- front logo -->
  <path d="M7 314.5 V312 A6 6 0 1 1 13 318 H9.2 V327.6" fill="none" stroke="#fdffff" stroke-width="4.2" stroke-linejoin="round"/>
  <rect x="-0.5" y="316.6" width="5.6" height="6" fill="#fdffff"/>
  <text class="sans" transform="translate(23.2,318.2) rotate(-2.5)" font-size="11.8" fill="#fdffff" stroke="#fdffff" stroke-width="0.45" textLength="31" lengthAdjust="spacingAndGlyphs">tp-link</text>
  <!-- product texts -->
  <text class="sans" transform="translate(1.2,342.6) rotate(-2.8)" font-size="6.7" font-weight="700" fill="#1b3a7c" textLength="46" lengthAdjust="spacingAndGlyphs">AC750 Wireless</text>
  <text class="sans" transform="translate(1.2,351.8) rotate(-2.8)" font-size="5.4" fill="#f2ffff" textLength="23.5" lengthAdjust="spacingAndGlyphs">Dual Band</text>
  <text class="sans" transform="translate(1.2,359.2) rotate(-2.8)" font-size="5.8" fill="#f2ffff" textLength="32.5" lengthAdjust="spacingAndGlyphs">4G LTE Router</text>
  <path d="M0 364.6 L25 363.2 Q27.6 363.2 27.6 366.2 Q27.6 369 25 369.2 L0 370.6Z" fill="#1b3a7c"/>
  <text class="sans" transform="translate(1.5,369.2) rotate(-3)" font-size="4" font-weight="700" fill="#eef6ff" textLength="23.5" lengthAdjust="spacingAndGlyphs">Archer MR200</text>
  <!-- antennas -->
  <path d="M65 304 Q65.1 301.8 68.5 301.8 Q72 301.8 72.2 304 L72.3 366 H63.6Z" fill="url(#gAnt)"/>
  <path d="M127.4 300 Q127.5 297.6 131.2 297.6 Q134.8 297.6 135 300 L133 366 L130.8 372.5 H126.4 L124.3 366Z" fill="url(#gAnt)"/>
  <!-- router body -->
  <path d="M12 388 Q11.6 386.6 13 386 L58 364.6 Q60 363.6 62.5 363.8 L123 369.4 Q125.5 369.6 127 371 L128.9 373.5 L129.4 377.4 L97 413.6 Q95.6 414.9 93 414.3 Q50 403 14 391.6 Q12.4 391 12 388Z" fill="#1d1d21"/>
  <path d="M12 388 Q11.6 386.6 13 386 L58 364.6 Q60 363.6 62.5 363.8 L123 369.4 Q125.5 369.6 127 371 L128.9 373.5 L96.6 409.6 Q95.2 411 92.6 410.5 Q50 399.5 13.6 388.9Z" fill="url(#gRouterTop)"/>
  <path d="M13.6 389 Q50 399.6 92.6 410.7 Q95.2 411.2 96.6 409.8 L128.9 373.6" fill="none" stroke="#4a4a52" stroke-width="0.7"/>
  <path d="M14.2 391.5 Q50 402.8 93 414.1 Q95.6 414.7 97 413.4 L129.3 377.3" fill="none" stroke="#6b3e2c" stroke-width="0.8" opacity="0.85"/>
  <path d="M30 380 Q70 366 118 372 L122 378 Q80 374 42 392Z" fill="#2c2c33" opacity="0.55" filter="url(#b1)"/>
  <path d="M37.5 391.2 L75 397" stroke="#d8d8e0" stroke-width="0.9" stroke-dasharray="1.1 3.2" opacity="0.9"/>
  <text class="sans" transform="translate(62,376.4) rotate(2) skewX(-20) scale(1,0.7)" font-size="5.2" font-weight="700" fill="#e4e4ea" textLength="15.5" lengthAdjust="spacingAndGlyphs">tp-link</text>
  <!-- right info icon and text -->
  <circle cx="145" cy="372" r="7.2" fill="#1c3f8c"/>
  <circle cx="145" cy="372" r="5.6" fill="none" stroke="#dfeaff" stroke-width="0.6" opacity="0.8"/>
  <path d="M141.6 374 A3.7 3.7 0 0 1 148.6 374" fill="none" stroke="#f2f7ff" stroke-width="1"/>
  <path d="M145 374 L147.2 370.2" stroke="#f2f7ff" stroke-width="0.9"/>
  <g font-weight="700" fill="#1b3a7c">
    <text class="sans" x="138.7" y="385.3" font-size="3.2" textLength="12" lengthAdjust="spacingAndGlyphs">AC750 with</text>
    <text class="sans" x="138.7" y="388.7" font-size="3.2" textLength="10.8" lengthAdjust="spacingAndGlyphs">Dual Band</text>
    <text class="sans" x="138.7" y="392.1" font-size="3.2" textLength="14.8" lengthAdjust="spacingAndGlyphs">Wi-Fi for More</text>
    <text class="sans" x="138.7" y="395.6" font-size="3.2" textLength="10" lengthAdjust="spacingAndGlyphs">Network</text>
  </g>
  <!-- green badge -->
  <clipPath id="cpGB"><circle cx="152.5" cy="298.3" r="8.3"/></clipPath>
  <g clip-path="url(#cpGB)">
    <rect x="143" y="289" width="19" height="19" fill="#1f8c3d"/>
    <path d="M143 289 H162 V297.6 L143 299Z" fill="#f4e01c"/>
    <path d="M143 304.5 L162 303.5 V308 H143Z" fill="#14703a"/>
  </g>
  <circle cx="152.5" cy="298.3" r="8.1" fill="none" stroke="#e9e23a" stroke-width="0.5" opacity="0.6"/>
  <text class="sans" transform="translate(149.3,297.2) rotate(-3)" font-size="6.2" font-weight="700" fill="#2c6a2a" textLength="6.6" lengthAdjust="spacingAndGlyphs">80</text>
  <text class="sans" transform="translate(147.2,301.9) rotate(-3)" font-size="2.7" font-weight="700" fill="#f4fff4" textLength="10.4" lengthAdjust="spacingAndGlyphs">PERCENT</text>
  <text class="sans" transform="translate(147.8,304.6) rotate(-3)" font-size="2.7" font-weight="700" fill="#f4fff4" textLength="9.2" lengthAdjust="spacingAndGlyphs">Recycled</text>
  <!-- bottom navy bar -->
  <path d="M47.5 425.4 L163 409 L163 418.4 L41.5 437.9 L41.5 431.5 Q41.6 426.4 47.5 425.4Z" fill="#1c3a80" stroke="#6fa6dc" stroke-width="0.6"/>
  <g fill="none" stroke="#e9f1ff" stroke-width="0.7">
    <rect x="47.6" y="428.8" width="5.8" height="4.6" rx="0.8" transform="rotate(-8.5 50 431)"/>
    <path d="M89.8 420.4 Q88.4 422.8 89.8 425.4 M94.6 419.7 Q96 422.1 94.8 424.7"/>
    <circle cx="126.8" cy="417.6" r="2.5"/>
  </g>
  <path d="M92.3 420.6 V424.6" stroke="#e9f1ff" stroke-width="0.9"/>
  <g fill="#e9f1ff" font-weight="700">
    <text class="sans" transform="translate(56.5,429) rotate(-8.3)" font-size="2.9" textLength="22" lengthAdjust="spacingAndGlyphs">4G FDD/TDD-LTE</text>
    <text class="sans" transform="translate(56.9,432.6) rotate(-8.3)" font-size="2.9" textLength="14" lengthAdjust="spacingAndGlyphs">Compatible</text>
    <text class="sans" transform="translate(98,421.2) rotate(-8.3)" font-size="2.9" textLength="21" lengthAdjust="spacingAndGlyphs">300Mbps + 433Mbps</text>
    <text class="sans" transform="translate(98.4,424.7) rotate(-8.3)" font-size="2.9" textLength="16" lengthAdjust="spacingAndGlyphs">Dual Band Wi-Fi</text>
    <text class="sans" transform="translate(131,415.6) rotate(-8.3)" font-size="2.9" textLength="18" lengthAdjust="spacingAndGlyphs">LTE-Advanced</text>
    <text class="sans" transform="translate(131.4,419) rotate(-8.3)" font-size="2.9" textLength="20" lengthAdjust="spacingAndGlyphs">Router Ready Sim</text>
  </g>
  </g>
</g>


</svg>
</body>
</html>
